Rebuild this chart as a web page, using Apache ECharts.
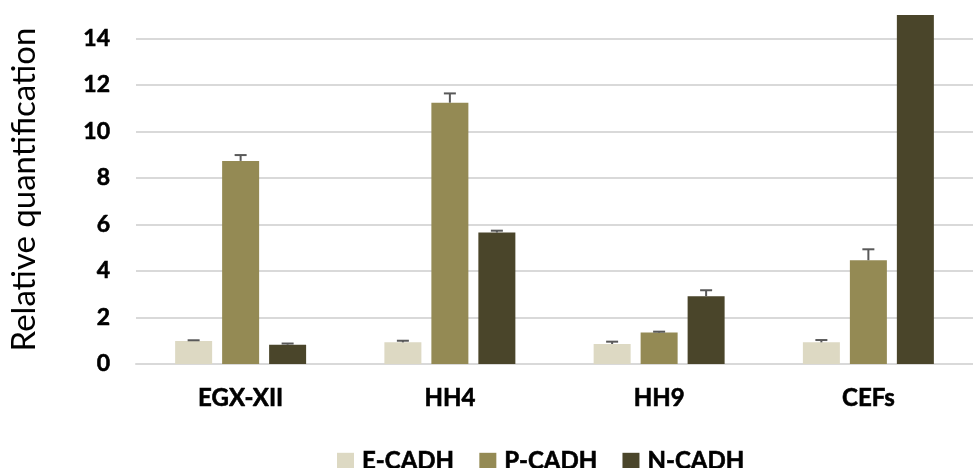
<!DOCTYPE html>
<html>
<head>
<meta charset="utf-8">
<style>
  html, body { margin: 0; padding: 0; background: #fff; }
  #chart { width: 973px; height: 468px; }
</style>
<script src="https://cdn.jsdelivr.net/npm/echarts@6/dist/echarts.min.js"></script>
</head>
<body>
<div id="chart"></div>
<script>
// categories and values
var categories = ['EGX-XII', 'HH4', 'HH9', 'CEFs'];
var seriesNames = ['E-CADH', 'P-CADH', 'N-CADH'];
var eCadh = [0.99, 0.93, 0.86, 0.93];
var pCadh = [8.73, 11.23, 1.35, 4.46];
var nCadh = [0.83, 5.65, 2.91, 15];
// upper error bar lengths
var eErr = [0.03, 0.07, 0.10, 0.10];
var pErr = [0.25, 0.40, 0.04, 0.47];
var nErr = [0.05, 0.08, 0.26, 0];
var yTicks = [0, 2, 4, 6, 8, 10, 12, 14];

var colors = ['#DDD9C3', '#948A54', '#4A452A'];
var barW = 37, barGapPx = 10;
var font = 'Lato';
// heavier look for the bold labels
var boldText = { fontFamily: font, fontWeight: 'bold', color: '#000', textBorderColor: '#000', textBorderWidth: 0.6 };

var myChart = echarts.init(document.getElementById('chart'));

function errSeries(values, errs, idx) {
    var offset = (idx - 1) * (barW + barGapPx);
    return {
        type: 'custom',
        name: seriesNames[idx] + ' err',
        silent: true,
        z: 5,
        data: values.map(function (v, i) { return [i, v, errs[i]]; }),
        renderItem: function (params, api) {
            var i = api.value(0), v = api.value(1), e = api.value(2);
            if (!e) return null;
            var p0 = api.coord([i, v]);
            var p1 = api.coord([i, v + e]);
            var x = p0[0] + offset;
            var st = { stroke: '#595959', lineWidth: 2 };
            return {
                type: 'group',
                children: [
                    { type: 'line', shape: { x1: x, y1: p0[1], x2: x, y2: p1[1] }, style: st },
                    { type: 'line', shape: { x1: x - 6, y1: p1[1], x2: x + 6, y2: p1[1] }, style: st }
                ]
            };
        }
    };
}

function barSeries(values, idx) {
    return {
        type: 'bar',
        name: seriesNames[idx],
        data: values,
        barWidth: barW,
        barGap: (barGapPx / barW * 100).toFixed(1) + '%',
        itemStyle: { color: colors[idx] },
        emphasis: { disabled: true }
    };
}

var option = {
    animation: false,
    color: colors,
    grid: { left: 136, top: 15, width: 847, bottom: 104 },
    legend: {
        data: seriesNames,
        left: 337,
        top: 449,
        padding: 0,
        itemWidth: 17,
        itemHeight: 17,
        itemGap: 25,
        icon: 'rect',
        textStyle: Object.assign({ fontSize: 24, padding: [0, 0, 0, 3] }, boldText)
    },
    xAxis: {
        type: 'category',
        data: categories,
        axisLine: { lineStyle: { color: '#D9D9D9', width: 2 } },
        axisTick: { show: false },
        axisLabel: Object.assign({ fontSize: 24, margin: 22 }, boldText)
    },
    yAxis: {
        type: 'value',
        min: yTicks[0],
        max: 15,
        interval: yTicks[1] - yTicks[0],
        name: 'Relative quantification',
        nameLocation: 'middle',
        nameGap: 95,
        nameTextStyle: { fontFamily: font, fontSize: 33, color: '#000' },
        axisLine: { show: false },
        axisTick: { show: false },
        axisLabel: Object.assign({ fontSize: 23, margin: 26, showMaxLabel: false }, boldText),
        splitLine: { showMaxLine: false, lineStyle: { color: '#D9D9D9', width: 2 } }
    },
    series: [
        barSeries(eCadh, 0),
        barSeries(pCadh, 1),
        barSeries(nCadh, 2),
        errSeries(eCadh, eErr, 0),
        errSeries(pCadh, pErr, 1),
        errSeries(nCadh, nErr, 2)
    ]
};

myChart.setOption(option);
</script>
</body>
</html>
